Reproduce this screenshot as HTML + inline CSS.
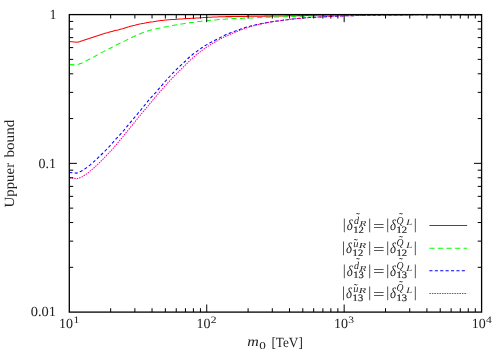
<!DOCTYPE html>
<html><head><meta charset="utf-8"><title>plot</title>
<style>
html,body{margin:0;padding:0;background:#fff;}
svg{display:block}
text{font-family:"Liberation Serif",serif;fill:#222;text-rendering:geometricPrecision;}
.t{font-size:14px}
.sup{font-size:9.8px}
.m{font-size:15px}
.mi{font-size:15px;font-style:italic}
.s{font-size:9.8px;stroke:#222;stroke-width:0.2px}
.si{font-size:10.5px;font-style:italic}
.ssi{font-size:7.6px;font-style:italic}
.tl{font-size:12px}
.ssl{font-size:8.6px;font-style:italic}
</style></head><body>
<svg width="504" height="355" viewBox="0 0 504 355">
<rect width="504" height="355" fill="#fff"/>
<g fill="none" stroke-width="1.05">
<path d="M69.3,41.5 L76.9,42.3 L78.4,41.9 L80.0,41.5 L81.5,41.0 L83.0,40.6 L84.5,40.1 L86.1,39.6 L87.6,39.1 L89.1,38.6 L90.6,38.0 L92.2,37.5 L93.7,37.0 L95.2,36.5 L96.7,36.0 L98.3,35.5 L99.8,35.0 L101.3,34.5 L102.8,34.0 L104.4,33.6 L105.9,33.1 L107.4,32.7 L108.9,32.2 L110.5,31.8 L112.0,31.4 L113.5,31.0 L115.0,30.6 L116.6,30.2 L118.1,29.9 L119.6,29.5 L121.1,29.1 L122.7,28.7 L124.2,28.2 L125.7,27.7 L127.2,27.2 L128.8,26.8 L130.3,26.3 L131.8,25.9 L133.4,25.5 L134.9,25.2 L136.4,24.8 L137.9,24.4 L139.5,24.1 L141.0,23.8 L142.5,23.4 L144.0,23.2 L145.6,22.9 L147.1,22.6 L148.6,22.4 L150.1,22.1 L151.7,21.9 L153.2,21.7 L154.7,21.4 L156.2,21.2 L157.8,21.0 L159.3,20.8 L160.8,20.6 L162.3,20.5 L163.9,20.3 L165.4,20.1 L166.9,20.0 L168.4,19.8 L170.0,19.7 L171.5,19.6 L173.0,19.5 L174.5,19.4 L176.1,19.3 L177.6,19.2 L179.1,19.1 L180.6,19.0 L182.2,18.9 L183.7,18.8 L185.2,18.7 L186.8,18.6 L188.3,18.5 L189.8,18.4 L191.3,18.3 L192.9,18.3 L194.4,18.2 L195.9,18.1 L197.4,18.0 L199.0,17.9 L200.5,17.8 L202.0,17.7 L203.5,17.6 L205.1,17.5 L206.6,17.4 L208.1,17.3 L209.6,17.3 L211.2,17.2 L212.7,17.1 L214.2,17.0 L215.7,17.0 L217.3,16.9 L218.8,16.8 L220.3,16.8 L221.8,16.7 L223.4,16.7 L224.9,16.7 L226.4,16.6 L227.9,16.6 L229.5,16.6 L231.0,16.6 L232.5,16.5 L234.0,16.5 L235.6,16.5 L237.1,16.5 L238.6,16.5 L240.1,16.4 L241.7,16.4 L243.2,16.4 L244.7,16.4 L246.3,16.4 L247.8,16.3 L249.3,16.3 L250.8,16.3 L252.4,16.3 L253.9,16.3 L255.4,16.3 L256.9,16.2 L258.5,16.2 L260.0,16.2 L261.5,16.2 L263.0,16.2 L264.6,16.1 L266.1,16.1 L267.6,16.1 L269.1,16.1 L270.7,16.1 L272.2,16.0 L273.7,16.0 L275.2,16.0 L276.8,16.0 L278.3,16.0 L279.8,15.9 L281.3,15.9 L282.9,15.9 L284.4,15.9 L285.9,15.8 L287.4,15.8 L289.0,15.8 L290.5,15.8 L292.0,15.7 L293.5,15.7 L295.1,15.7 L296.6,15.7 L298.1,15.6 L299.7,15.6 L301.2,15.6 L302.7,15.6 L304.2,15.5 L305.8,15.5 L307.3,15.5 L308.8,15.5 L310.3,15.4 L311.9,15.4 L313.4,15.4 L314.9,15.3 L316.4,15.3 L318.0,15.3 L319.5,15.3 L321.0,15.2 L322.5,15.2 L324.1,15.2 L325.6,15.2 L327.1,15.1 L328.6,15.1 L330.2,15.1 L331.7,15.1 L333.2,15.1 L334.7,15.0 L336.3,15.0 L337.8,15.0 L339.3,15.0 L340.8,15.0 L342.4,14.9 L343.9,14.9 L345.4,14.9 L346.9,14.9 L348.5,14.9 L350.0,14.9 L362.0,14.8 L373.9,14.8 L385.9,14.7 L397.9,14.7 L409.8,14.7 L421.8,14.6 L433.7,14.6 L445.7,14.6 L457.7,14.6 L469.6,14.6 L481.6,14.6" stroke="#ff0000"/>
<path d="M69.3,64.5 L76.0,65.0 L77.5,64.6 L79.1,64.1 L80.6,63.5 L82.1,62.9 L83.7,62.2 L85.2,61.4 L86.7,60.6 L88.2,59.8 L89.8,59.0 L91.3,58.2 L92.8,57.4 L94.4,56.6 L95.9,55.8 L97.4,54.9 L99.0,54.1 L100.5,53.2 L102.0,52.4 L103.6,51.6 L105.1,50.8 L106.6,50.0 L108.1,49.2 L109.7,48.5 L111.2,47.7 L112.7,46.9 L114.3,46.0 L115.8,45.2 L117.3,44.4 L118.9,43.7 L120.4,43.0 L121.9,42.3 L123.5,41.6 L125.0,40.9 L126.5,40.1 L128.0,39.3 L129.6,38.5 L131.1,37.8 L132.6,37.1 L134.2,36.4 L135.7,35.7 L137.2,35.0 L138.8,34.3 L140.3,33.7 L141.8,33.1 L143.4,32.6 L144.9,32.0 L146.4,31.5 L147.9,31.0 L149.5,30.6 L151.0,30.1 L152.5,29.7 L154.1,29.3 L155.6,28.9 L157.1,28.6 L158.7,28.2 L160.2,27.9 L161.7,27.6 L163.3,27.3 L164.8,27.0 L166.3,26.7 L167.8,26.5 L169.4,26.2 L170.9,25.9 L172.4,25.6 L174.0,25.3 L175.5,25.0 L177.0,24.7 L178.6,24.4 L180.1,24.2 L181.6,23.9 L183.2,23.7 L184.7,23.5 L186.2,23.3 L187.7,23.1 L189.3,22.8 L190.8,22.6 L192.3,22.4 L193.9,22.2 L195.4,21.9 L196.9,21.7 L198.5,21.5 L200.0,21.4 L201.5,21.2 L203.1,21.0 L204.6,20.9 L206.1,20.7 L207.6,20.6 L209.2,20.4 L210.7,20.3 L212.2,20.2 L213.8,20.0 L215.3,19.9 L216.8,19.8 L218.4,19.6 L219.9,19.5 L221.4,19.4 L222.9,19.3 L224.5,19.2 L226.0,19.0 L227.5,18.9 L229.1,18.8 L230.6,18.7 L232.1,18.6 L233.7,18.5 L235.2,18.5 L236.7,18.5 L238.3,18.4 L239.8,18.4 L241.3,18.4 L242.8,18.3 L244.4,18.2 L245.9,18.2 L247.4,18.1 L249.0,18.0 L250.5,18.0 L252.0,17.9 L253.6,17.8 L255.1,17.7 L256.6,17.7 L258.2,17.6 L259.7,17.5 L261.2,17.4 L262.7,17.4 L264.3,17.3 L265.8,17.3 L267.3,17.2 L268.9,17.2 L270.4,17.1 L271.9,17.1 L273.5,17.0 L275.0,17.0 L276.5,17.0 L278.1,16.9 L279.6,16.9 L281.1,16.8 L282.6,16.8 L284.2,16.7 L285.7,16.7 L287.2,16.6 L288.8,16.6 L290.3,16.5 L291.8,16.5 L293.4,16.4 L294.9,16.4 L296.4,16.3 L298.0,16.3 L299.5,16.3 L301.0,16.2 L302.5,16.2 L304.1,16.1 L305.6,16.1 L307.1,16.0 L308.7,16.0 L310.2,16.0 L311.7,15.9 L313.3,15.9 L314.8,15.8 L316.3,15.8 L317.9,15.8 L319.4,15.7 L320.9,15.7 L322.4,15.6 L324.0,15.6 L325.5,15.6 L327.0,15.5 L328.6,15.5 L330.1,15.4 L331.6,15.4 L333.2,15.3 L334.7,15.3 L336.2,15.3 L337.8,15.2 L339.3,15.2 L340.8,15.2 L342.3,15.2 L343.9,15.1 L345.4,15.1 L346.9,15.1 L348.5,15.1 L350.0,15.0 L362.0,14.9 L373.9,14.8 L385.9,14.7 L397.9,14.7 L409.8,14.7 L421.8,14.7 L433.7,14.6 L445.7,14.6 L457.7,14.6 L469.6,14.6 L481.6,14.6" stroke="#00ff00" stroke-dasharray="5.2,3.35"/>
<path d="M69.3,172.4 L76.5,173.1 L78.0,172.6 L79.6,171.9 L81.1,171.2 L82.6,170.3 L84.1,169.3 L85.7,168.3 L87.2,167.2 L88.7,166.0 L90.3,164.8 L91.8,163.5 L93.3,162.2 L94.8,160.8 L96.4,159.4 L97.9,157.9 L99.4,156.4 L100.9,155.0 L102.5,153.5 L104.0,152.0 L105.5,150.5 L107.1,148.9 L108.6,147.3 L110.1,145.6 L111.6,143.8 L113.2,142.1 L114.7,140.4 L116.2,138.7 L117.8,137.1 L119.3,135.5 L120.8,133.8 L122.3,132.1 L123.9,130.4 L125.4,128.5 L126.9,126.6 L128.4,124.7 L130.0,122.9 L131.5,121.1 L133.0,119.2 L134.6,117.4 L136.1,115.6 L137.6,113.8 L139.1,111.9 L140.7,110.1 L142.2,108.2 L143.7,106.3 L145.3,104.4 L146.8,102.5 L148.3,100.6 L149.8,98.9 L151.4,97.2 L152.9,95.5 L154.4,93.9 L156.0,92.3 L157.5,90.5 L159.0,88.7 L160.5,86.9 L162.1,85.1 L163.6,83.3 L165.1,81.5 L166.6,79.8 L168.2,78.1 L169.7,76.5 L171.2,74.8 L172.8,73.2 L174.3,71.7 L175.8,70.1 L177.3,68.6 L178.9,67.1 L180.4,65.7 L181.9,64.3 L183.5,62.9 L185.0,61.5 L186.5,60.0 L188.0,58.5 L189.6,57.0 L191.1,55.7 L192.6,54.5 L194.2,53.3 L195.7,52.2 L197.2,51.1 L198.7,50.0 L200.3,48.9 L201.8,47.8 L203.3,46.8 L204.8,45.8 L206.4,44.9 L207.9,44.0 L209.4,43.1 L211.0,42.3 L212.5,41.5 L214.0,40.8 L215.5,40.0 L217.1,39.2 L218.6,38.4 L220.1,37.6 L221.7,36.8 L223.2,36.0 L224.7,35.3 L226.2,34.6 L227.8,34.0 L229.3,33.3 L230.8,32.7 L232.3,32.1 L233.9,31.5 L235.4,31.0 L236.9,30.4 L238.5,29.8 L240.0,29.3 L241.5,28.7 L243.0,28.2 L244.6,27.7 L246.1,27.2 L247.6,26.8 L249.2,26.4 L250.7,26.0 L252.2,25.6 L253.7,25.2 L255.3,24.9 L256.8,24.5 L258.3,24.2 L259.9,23.9 L261.4,23.6 L262.9,23.3 L264.4,23.0 L266.0,22.7 L267.5,22.4 L269.0,22.2 L270.5,21.9 L272.1,21.7 L273.6,21.5 L275.1,21.3 L276.7,21.1 L278.2,20.9 L279.7,20.7 L281.2,20.5 L282.8,20.3 L284.3,20.1 L285.8,19.9 L287.4,19.7 L288.9,19.5 L290.4,19.3 L291.9,19.1 L293.5,18.9 L295.0,18.7 L296.5,18.6 L298.1,18.4 L299.6,18.3 L301.1,18.2 L302.6,18.0 L304.2,17.9 L305.7,17.8 L307.2,17.7 L308.7,17.6 L310.3,17.5 L311.8,17.4 L313.3,17.3 L314.9,17.2 L316.4,17.2 L317.9,17.1 L319.4,17.0 L321.0,16.9 L322.5,16.9 L324.0,16.8 L325.6,16.7 L327.1,16.6 L328.6,16.5 L330.1,16.5 L331.7,16.4 L333.2,16.3 L334.7,16.2 L336.2,16.2 L337.8,16.1 L339.3,16.0 L340.8,16.0 L342.4,15.9 L343.9,15.9 L345.4,15.8 L346.9,15.8 L348.5,15.7 L350.0,15.7 L362.0,15.4 L373.9,15.2 L385.9,15.0 L397.9,14.9 L409.8,14.8 L421.8,14.8 L433.7,14.7 L445.7,14.7 L457.7,14.6 L469.6,14.6 L481.6,14.6" stroke="#0000ff" stroke-dasharray="3.1,2.3"/>
<path d="M69.3,177.6 L76.9,178.7 L78.4,178.3 L80.0,177.7 L81.5,177.1 L83.0,176.2 L84.5,175.3 L86.1,174.3 L87.6,173.2 L89.1,171.9 L90.6,170.7 L92.2,169.4 L93.7,168.1 L95.2,166.7 L96.7,165.3 L98.3,163.8 L99.8,162.3 L101.3,160.8 L102.8,159.3 L104.4,157.7 L105.9,156.1 L107.4,154.6 L108.9,153.0 L110.5,151.3 L112.0,149.7 L113.5,148.0 L115.0,146.2 L116.6,144.3 L118.1,142.5 L119.6,140.7 L121.1,138.8 L122.7,137.0 L124.2,135.1 L125.7,133.2 L127.2,131.3 L128.8,129.4 L130.3,127.5 L131.8,125.7 L133.4,123.8 L134.9,121.9 L136.4,120.0 L137.9,118.1 L139.5,116.2 L141.0,114.4 L142.5,112.5 L144.0,110.7 L145.6,108.9 L147.1,107.1 L148.6,105.3 L150.1,103.4 L151.7,101.6 L153.2,99.7 L154.7,97.9 L156.2,96.1 L157.8,94.3 L159.3,92.5 L160.8,90.8 L162.3,89.1 L163.9,87.4 L165.4,85.7 L166.9,84.0 L168.4,82.3 L170.0,80.7 L171.5,79.0 L173.0,77.4 L174.5,75.8 L176.1,74.2 L177.6,72.6 L179.1,71.1 L180.6,69.6 L182.2,68.1 L183.7,66.6 L185.2,65.2 L186.8,63.6 L188.3,62.1 L189.8,60.6 L191.3,59.2 L192.9,57.8 L194.4,56.5 L195.9,55.2 L197.4,54.0 L199.0,52.8 L200.5,51.6 L202.0,50.4 L203.5,49.3 L205.1,48.2 L206.6,47.1 L208.1,46.2 L209.6,45.2 L211.2,44.3 L212.7,43.4 L214.2,42.5 L215.7,41.7 L217.3,40.8 L218.8,39.9 L220.3,39.1 L221.8,38.2 L223.4,37.4 L224.9,36.6 L226.4,35.9 L227.9,35.2 L229.5,34.6 L231.0,33.9 L232.5,33.3 L234.0,32.7 L235.6,32.1 L237.1,31.5 L238.6,30.9 L240.1,30.2 L241.7,29.7 L243.2,29.1 L244.7,28.5 L246.3,28.0 L247.8,27.5 L249.3,27.1 L250.8,26.6 L252.4,26.2 L253.9,25.7 L255.4,25.3 L256.9,25.0 L258.5,24.6 L260.0,24.2 L261.5,23.9 L263.0,23.5 L264.6,23.2 L266.1,22.9 L267.6,22.6 L269.1,22.3 L270.7,22.0 L272.2,21.8 L273.7,21.5 L275.2,21.3 L276.8,21.1 L278.3,20.9 L279.8,20.7 L281.3,20.5 L282.9,20.3 L284.4,20.1 L285.9,19.9 L287.4,19.7 L289.0,19.5 L290.5,19.3 L292.0,19.1 L293.5,18.9 L295.1,18.7 L296.6,18.6 L298.1,18.4 L299.7,18.3 L301.2,18.2 L302.7,18.0 L304.2,17.9 L305.8,17.8 L307.3,17.7 L308.8,17.6 L310.3,17.5 L311.9,17.4 L313.4,17.3 L314.9,17.2 L316.4,17.2 L318.0,17.1 L319.5,17.0 L321.0,16.9 L322.5,16.9 L324.1,16.8 L325.6,16.7 L327.1,16.6 L328.6,16.5 L330.2,16.5 L331.7,16.4 L333.2,16.3 L334.7,16.2 L336.3,16.2 L337.8,16.1 L339.3,16.0 L340.8,16.0 L342.4,15.9 L343.9,15.9 L345.4,15.8 L346.9,15.8 L348.5,15.7 L350.0,15.7 L362.0,15.4 L373.9,15.2 L385.9,15.0 L397.9,14.9 L409.8,14.8 L421.8,14.8 L433.7,14.7 L445.7,14.7 L457.7,14.6 L469.6,14.6 L481.6,14.6" stroke="#ff00a0" stroke-dasharray="1.5,1.0"/>
<path d="M429.4,225.5 H467.1" stroke="#ff0000"/>
<path d="M429.4,248.3 H467.1" stroke="#00ff00" stroke-dasharray="5.2,3.35"/>
<path d="M429.4,270.8 H467.1" stroke="#0000ff" stroke-dasharray="3.1,2.3"/>
<path d="M429.4,293.4 H467.1" stroke="#ff00a0" stroke-dasharray="1.5,1.0"/>
</g>
<g fill="none" stroke="#000" stroke-width="1.3">
<rect x="69.3" y="14.6" width="412.3" height="297.5"/>
</g>
<path d="M110.67,312.1 v-3.9 M110.67,14.6 v3.9 M134.87,312.1 v-3.9 M134.87,14.6 v3.9 M152.04,312.1 v-3.9 M152.04,14.6 v3.9 M165.36,312.1 v-3.9 M165.36,14.6 v3.9 M176.24,312.1 v-3.9 M176.24,14.6 v3.9 M185.44,312.1 v-3.9 M185.44,14.6 v3.9 M193.41,312.1 v-3.9 M193.41,14.6 v3.9 M200.44,312.1 v-3.9 M200.44,14.6 v3.9 M206.73,312.1 v-7.6 M206.73,14.6 v7.6 M248.10,312.1 v-3.9 M248.10,14.6 v3.9 M272.31,312.1 v-3.9 M272.31,14.6 v3.9 M289.48,312.1 v-3.9 M289.48,14.6 v3.9 M302.80,312.1 v-3.9 M302.80,14.6 v3.9 M313.68,312.1 v-3.9 M313.68,14.6 v3.9 M322.88,312.1 v-3.9 M322.88,14.6 v3.9 M330.85,312.1 v-3.9 M330.85,14.6 v3.9 M337.88,312.1 v-3.9 M337.88,14.6 v3.9 M344.17,312.1 v-7.6 M344.17,14.6 v7.6 M385.54,312.1 v-3.9 M385.54,14.6 v3.9 M409.74,312.1 v-3.9 M409.74,14.6 v3.9 M426.91,312.1 v-3.9 M426.91,14.6 v3.9 M440.23,312.1 v-3.9 M440.23,14.6 v3.9 M451.11,312.1 v-3.9 M451.11,14.6 v3.9 M460.31,312.1 v-3.9 M460.31,14.6 v3.9 M468.28,312.1 v-3.9 M468.28,14.6 v3.9 M475.31,312.1 v-3.9 M475.31,14.6 v3.9 M69.3,267.32 h3.9 M481.6,267.32 h-3.9 M69.3,241.13 h3.9 M481.6,241.13 h-3.9 M69.3,222.54 h3.9 M481.6,222.54 h-3.9 M69.3,208.13 h3.9 M481.6,208.13 h-3.9 M69.3,196.35 h3.9 M481.6,196.35 h-3.9 M69.3,186.39 h3.9 M481.6,186.39 h-3.9 M69.3,177.77 h3.9 M481.6,177.77 h-3.9 M69.3,170.16 h3.9 M481.6,170.16 h-3.9 M69.3,163.35 h7.6 M481.6,163.35 h-7.6 M69.3,118.57 h3.9 M481.6,118.57 h-3.9 M69.3,92.38 h3.9 M481.6,92.38 h-3.9 M69.3,73.79 h3.9 M481.6,73.79 h-3.9 M69.3,59.38 h3.9 M481.6,59.38 h-3.9 M69.3,47.60 h3.9 M481.6,47.60 h-3.9 M69.3,37.64 h3.9 M481.6,37.64 h-3.9 M69.3,29.02 h3.9 M481.6,29.02 h-3.9 M69.3,21.41 h3.9 M481.6,21.41 h-3.9" fill="none" stroke="#000" stroke-width="1"/>
<g class="t">
<text x="56.5" y="18.9" text-anchor="end">1</text>
<text x="56.1" y="167.7" text-anchor="end">0.1</text>
<text x="56.0" y="315.8" text-anchor="end" textLength="25.2" lengthAdjust="spacingAndGlyphs">0.01</text>
<text x="59.0" y="327.8">10</text><text x="73.4" y="323.3" class="sup" textLength="5.8" lengthAdjust="spacingAndGlyphs">1</text>
<text x="196.4" y="327.8">10</text><text x="210.8" y="323.3" class="sup" textLength="5.8" lengthAdjust="spacingAndGlyphs">2</text>
<text x="333.9" y="327.8">10</text><text x="348.3" y="323.3" class="sup" textLength="5.8" lengthAdjust="spacingAndGlyphs">3</text>
<text x="471.7" y="327.8">10</text><text x="486.1" y="323.3" class="sup" textLength="5.8" lengthAdjust="spacingAndGlyphs">4</text>
<text x="247.2" y="346.2" style="font-style:italic" textLength="11.6" lengthAdjust="spacingAndGlyphs">m</text>
<text x="259.2" y="348.9" class="sup" style="font-size:10.4px" textLength="6.6" lengthAdjust="spacingAndGlyphs">0</text>
<text x="271.4" y="346.5" textLength="31.4" lengthAdjust="spacingAndGlyphs">[TeV]</text>
<text transform="translate(14,207.5) rotate(-90)" textLength="44.6" lengthAdjust="spacingAndGlyphs">Uppuer</text>
<text transform="translate(14,157.5) rotate(-90)" textLength="37.8" lengthAdjust="spacingAndGlyphs">bound</text>
</g>
<g transform="translate(0,230.3)"><text x="344.3" y="-0.9" class="m" text-anchor="middle">|</text><text x="346.8" y="0" class="mi" textLength="6" lengthAdjust="spacingAndGlyphs">δ</text><text x="353.3" y="2.7" class="s" textLength="10.6" lengthAdjust="spacingAndGlyphs">12</text><text x="354.1" y="-6.4" class="si" textLength="5.0" lengthAdjust="spacingAndGlyphs">d</text><text x="357.9" y="-9.2" class="tl" text-anchor="middle">˜</text><text x="359.4" y="-4.8" class="ssi" textLength="6.8" lengthAdjust="spacingAndGlyphs">R</text><text x="369.7" y="-0.9" class="m" text-anchor="middle">|</text><text x="372.9" y="0.6" class="m" textLength="11.6" lengthAdjust="spacingAndGlyphs">=</text><text x="387.8" y="-0.9" class="m" text-anchor="middle">|</text><text x="390.1" y="0" class="mi" textLength="6" lengthAdjust="spacingAndGlyphs">δ</text><text x="396.4" y="2.7" class="s" textLength="10.6" lengthAdjust="spacingAndGlyphs">12</text><text x="396.6" y="-6.8" class="si" textLength="7.0" lengthAdjust="spacingAndGlyphs">Q</text><text x="401.0" y="-9.3" class="tl" text-anchor="middle">˜</text><text x="406.3" y="-4.9" class="ssl" textLength="6.0" lengthAdjust="spacingAndGlyphs">L</text><text x="415.3" y="-0.9" class="m" text-anchor="middle">|</text></g>
<g transform="translate(0,252.9)"><text x="343.6" y="-0.9" class="m" text-anchor="middle">|</text><text x="346.1" y="0" class="mi" textLength="6" lengthAdjust="spacingAndGlyphs">δ</text><text x="352.6" y="2.7" class="s" textLength="10.6" lengthAdjust="spacingAndGlyphs">12</text><text x="353.3" y="-6.3" class="si" textLength="5.2" lengthAdjust="spacingAndGlyphs">u</text><text x="355.7" y="-6.3" class="tl" text-anchor="middle">˜</text><text x="358.7" y="-4.8" class="ssi" textLength="7.4" lengthAdjust="spacingAndGlyphs">R</text><text x="369.7" y="-0.9" class="m" text-anchor="middle">|</text><text x="372.9" y="0.6" class="m" textLength="11.6" lengthAdjust="spacingAndGlyphs">=</text><text x="387.8" y="-0.9" class="m" text-anchor="middle">|</text><text x="390.1" y="0" class="mi" textLength="6" lengthAdjust="spacingAndGlyphs">δ</text><text x="396.4" y="2.7" class="s" textLength="10.6" lengthAdjust="spacingAndGlyphs">12</text><text x="396.6" y="-6.8" class="si" textLength="7.0" lengthAdjust="spacingAndGlyphs">Q</text><text x="401.0" y="-9.3" class="tl" text-anchor="middle">˜</text><text x="406.3" y="-4.9" class="ssl" textLength="6.0" lengthAdjust="spacingAndGlyphs">L</text><text x="415.3" y="-0.9" class="m" text-anchor="middle">|</text></g>
<g transform="translate(0,275.5)"><text x="344.3" y="-0.9" class="m" text-anchor="middle">|</text><text x="346.8" y="0" class="mi" textLength="6" lengthAdjust="spacingAndGlyphs">δ</text><text x="353.3" y="2.7" class="s" textLength="10.6" lengthAdjust="spacingAndGlyphs">13</text><text x="354.1" y="-6.4" class="si" textLength="5.0" lengthAdjust="spacingAndGlyphs">d</text><text x="357.9" y="-9.2" class="tl" text-anchor="middle">˜</text><text x="359.4" y="-4.8" class="ssi" textLength="6.8" lengthAdjust="spacingAndGlyphs">R</text><text x="369.7" y="-0.9" class="m" text-anchor="middle">|</text><text x="372.9" y="0.6" class="m" textLength="11.6" lengthAdjust="spacingAndGlyphs">=</text><text x="387.8" y="-0.9" class="m" text-anchor="middle">|</text><text x="390.1" y="0" class="mi" textLength="6" lengthAdjust="spacingAndGlyphs">δ</text><text x="396.4" y="2.7" class="s" textLength="10.6" lengthAdjust="spacingAndGlyphs">13</text><text x="396.6" y="-6.8" class="si" textLength="7.0" lengthAdjust="spacingAndGlyphs">Q</text><text x="401.0" y="-9.3" class="tl" text-anchor="middle">˜</text><text x="406.3" y="-4.9" class="ssl" textLength="6.0" lengthAdjust="spacingAndGlyphs">L</text><text x="415.3" y="-0.9" class="m" text-anchor="middle">|</text></g>
<g transform="translate(0,298.1)"><text x="343.6" y="-0.9" class="m" text-anchor="middle">|</text><text x="346.1" y="0" class="mi" textLength="6" lengthAdjust="spacingAndGlyphs">δ</text><text x="352.6" y="2.7" class="s" textLength="10.6" lengthAdjust="spacingAndGlyphs">13</text><text x="353.3" y="-6.3" class="si" textLength="5.2" lengthAdjust="spacingAndGlyphs">u</text><text x="355.7" y="-6.3" class="tl" text-anchor="middle">˜</text><text x="358.7" y="-4.8" class="ssi" textLength="7.4" lengthAdjust="spacingAndGlyphs">R</text><text x="369.7" y="-0.9" class="m" text-anchor="middle">|</text><text x="372.9" y="0.6" class="m" textLength="11.6" lengthAdjust="spacingAndGlyphs">=</text><text x="387.8" y="-0.9" class="m" text-anchor="middle">|</text><text x="390.1" y="0" class="mi" textLength="6" lengthAdjust="spacingAndGlyphs">δ</text><text x="396.4" y="2.7" class="s" textLength="10.6" lengthAdjust="spacingAndGlyphs">13</text><text x="396.6" y="-6.8" class="si" textLength="7.0" lengthAdjust="spacingAndGlyphs">Q</text><text x="401.0" y="-9.3" class="tl" text-anchor="middle">˜</text><text x="406.3" y="-4.9" class="ssl" textLength="6.0" lengthAdjust="spacingAndGlyphs">L</text><text x="415.3" y="-0.9" class="m" text-anchor="middle">|</text></g>
</svg>
</body></html>
